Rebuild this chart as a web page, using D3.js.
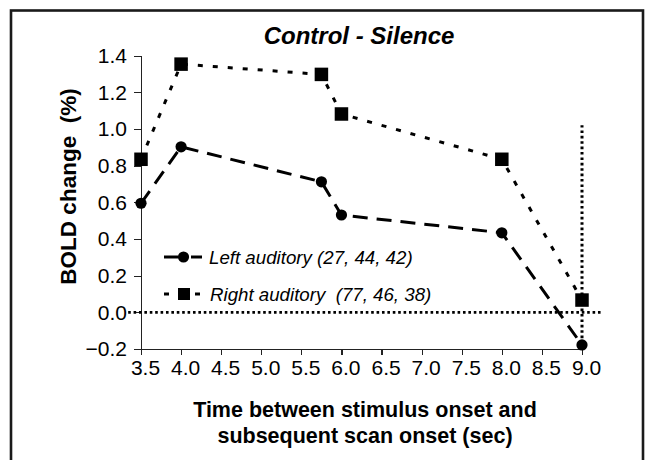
<!DOCTYPE html>
<meta charset="utf-8">
<style>
body {
  margin: 0;
  background: #fff;
}

svg text {
  font-family: 'Liberation Sans', Arial, sans-serif;
  fill: #000;
}

.axis path,
.axis line {
  stroke: #222;
  stroke-width: 1.2px;
  shape-rendering: crispEdges;
}

.axis text {
  font-size: 21px;
}

.title {
  font-size: 24px;
  font-weight: bold;
  font-style: italic;
}

.axis-title {
  font-size: 21.5px;
  font-weight: bold;
}

.legend text {
  font-size: 18.7px;
  font-style: italic;
}
</style>
<html>
  <body>
    <svg width="650" height="460"></svg>
  </body>
</html>
<script src="https://d3js.org/d3.v7.min.js"></script>
<script>

// time between stimulus onset and scan onset (sec)
var times = [3.5, 4.0, 5.75, 6.0, 8.0, 9.0];

// BOLD change (%)
var leftAuditory  = [0.595, 0.903, 0.712, 0.531, 0.434, -0.178];
var rightAuditory = [0.835, 1.354, 1.298, 1.082, 0.835, 0.067];

var seriesNames = ["Left auditory (27, 44, 42)", "Right auditory  (77, 46, 38)"];

var xTicks = [3.5, 4.0, 4.5, 5.0, 5.5, 6.0, 6.5, 7.0, 7.5, 8.0, 8.5, 9.0];
var xTickLabels = ["3.5", "4.0", "4.5", "5.0", "5.5", "6.0", "6.5", "7.0", "7.5", "8.0", "8.5", "9.0"];
var yTicks = [-0.2, 0.0, 0.2, 0.4, 0.6, 0.8, 1.0, 1.2, 1.4];
var yTickLabels = ["\u22120.2", "0.0", "0.2", "0.4", "0.6", "0.8", "1.0", "1.2", "1.4"];

// reference lines: y = 0 across, x = 9.0 going up
var zeroLineX = [3.34, 9.24];
var markerLineX = 9.0;
var markerLineY = [-0.2, 1.02];

(function() {
  var svg = d3.select("svg");

  var x = d3.scaleLinear().domain([3.5, 9.0]).range([141, 582]);
  var y = d3.scaleLinear().domain([-0.2, 1.4]).range([349, 55.7]);

  // frame
  svg.append("rect")
      .attr("x", 11)
      .attr("y", 10.5)
      .attr("width", 632)
      .attr("height", 470)
      .attr("fill", "none")
      .attr("stroke", "#1a1a1a")
      .attr("stroke-width", 2.6);

  var xAxis = svg.append("g")
      .attr("class", "axis")
      .attr("transform", "translate(0," + y(-0.2) + ")")
      .call(d3.axisBottom(x)
          .tickValues(xTicks)
          .tickFormat(function(d, i) { return xTickLabels[i]; })
          .tickSize(6)
          .tickSizeOuter(0)
          .tickPadding(5));

  xAxis.selectAll("text")
      .attr("dx", 4);

  var yAxis = svg.append("g")
      .attr("class", "axis")
      .attr("transform", "translate(" + x(3.5) + ",0)")
      .call(d3.axisLeft(y)
          .tickValues(yTicks)
          .tickFormat(function(d, i) { return yTickLabels[i]; })
          .tickSize(7)
          .tickSizeOuter(0)
          .tickPadding(7));

  yAxis.selectAll(".domain").attr("stroke-width", 1.4);

  // dotted reference lines
  svg.append("line")
      .attr("x1", x(zeroLineX[0]))
      .attr("x2", x(zeroLineX[1]))
      .attr("y1", y(0))
      .attr("y2", y(0))
      .attr("stroke", "#000")
      .attr("stroke-width", 2.8)
      .attr("stroke-dasharray", "2.6,2.8");

  svg.append("line")
      .attr("x1", x(markerLineX))
      .attr("x2", x(markerLineX))
      .attr("y1", y(markerLineY[0]))
      .attr("y2", y(markerLineY[1]))
      .attr("stroke", "#000")
      .attr("stroke-width", 3)
      .attr("stroke-dasharray", "2.6,2.8");

  var leftData = times.map(function(t, i) { return {t: t, v: leftAuditory[i]}; });
  var rightData = times.map(function(t, i) { return {t: t, v: rightAuditory[i]}; });

  var line = d3.line()
      .x(function(d) { return x(d.t); })
      .y(function(d) { return y(d.v); });

  svg.append("path")
      .datum(rightData)
      .attr("d", line)
      .attr("fill", "none")
      .attr("stroke", "#000")
      .attr("stroke-width", 3)
      .attr("stroke-dasharray", "5,10");

  svg.append("path")
      .datum(leftData)
      .attr("d", line)
      .attr("fill", "none")
      .attr("stroke", "#000")
      .attr("stroke-width", 3)
      .attr("stroke-dasharray", "15,9");

  svg.append("g")
    .selectAll("circle")
    .data(leftData)
    .enter().append("circle")
      .attr("cx", function(d) { return x(d.t); })
      .attr("cy", function(d) { return y(d.v); })
      .attr("r", 5.6)
      .attr("fill", "#000");

  var sq = 13.5;
  svg.append("g")
    .selectAll("rect")
    .data(rightData)
    .enter().append("rect")
      .attr("x", function(d) { return x(d.t) - sq / 2; })
      .attr("y", function(d) { return y(d.v) - sq / 2; })
      .attr("width", sq)
      .attr("height", sq)
      .attr("fill", "#000");

  // legend
  var legend = svg.append("g").attr("class", "legend");

  legend.append("line")
      .attr("x1", 164).attr("x2", 178).attr("y1", 257).attr("y2", 257)
      .attr("stroke", "#000").attr("stroke-width", 3);
  legend.append("line")
      .attr("x1", 191).attr("x2", 202).attr("y1", 257).attr("y2", 257)
      .attr("stroke", "#000").attr("stroke-width", 3);
  legend.append("circle")
      .attr("cx", 183.5).attr("cy", 257).attr("r", 5.6).attr("fill", "#000");
  legend.append("text")
      .attr("x", 209).attr("y", 264)
      .text(seriesNames[0]);

  legend.append("line")
      .attr("x1", 164).attr("x2", 169).attr("y1", 294).attr("y2", 294)
      .attr("stroke", "#000").attr("stroke-width", 3);
  legend.append("line")
      .attr("x1", 195).attr("x2", 200).attr("y1", 294).attr("y2", 294)
      .attr("stroke", "#000").attr("stroke-width", 3);
  legend.append("rect")
      .attr("x", 184 - 6).attr("y", 294 - 6).attr("width", 12).attr("height", 12)
      .attr("fill", "#000");
  legend.append("text")
      .attr("x", 210).attr("y", 300.5)
      .attr("xml:space", "preserve")
      .style("white-space", "pre")
      .text(seriesNames[1]);

  // titles
  svg.append("text")
      .attr("class", "title")
      .attr("x", 359)
      .attr("y", 44)
      .attr("text-anchor", "middle")
      .text("Control - Silence");

  svg.append("text")
      .attr("class", "axis-title")
      .attr("text-anchor", "middle")
      .attr("transform", "translate(76,186.5) rotate(-90)")
      .style("white-space", "pre")
      .style("font-size", "22.5px")
      .text("BOLD change  (%)");

  svg.append("text")
      .attr("class", "axis-title")
      .attr("x", 365)
      .attr("y", 417)
      .attr("text-anchor", "middle")
      .text("Time between stimulus onset and");

  svg.append("text")
      .attr("class", "axis-title")
      .attr("x", 365)
      .attr("y", 443)
      .attr("text-anchor", "middle")
      .text("subsequent scan onset (sec)");
})();

</script>
